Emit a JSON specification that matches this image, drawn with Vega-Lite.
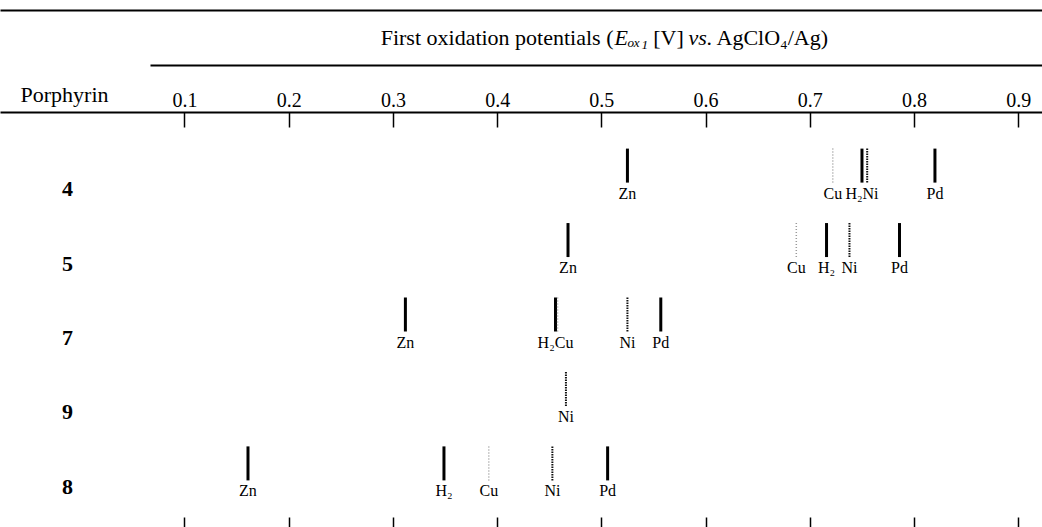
{
  "$schema": "https://vega.github.io/schema/vega-lite/v6.json",
  "width": 1042,
  "height": 405,
  "autosize": {"type": "none"},
  "padding": {"left": 0, "top": 112, "right": 0, "bottom": 10},
  "background": "white",
  "config": {
    "view": {"stroke": null},
    "axis": {"grid": false, "labelColor": "black", "titleColor": "black", "domainColor": "black", "tickColor": "black"}
  },
  "data": {
    "values": [
      {"porphyrin": "4", "metal": "Zn", "E": 0.525, "label": "Zn"},
      {"porphyrin": "4", "metal": "Cu", "E": 0.722, "label": "Cu"},
      {"porphyrin": "4", "metal": "H2", "E": 0.750, "label": "H₂Ni"},
      {"porphyrin": "4", "metal": "Ni", "E": 0.755, "label": ""},
      {"porphyrin": "4", "metal": "Pd", "E": 0.820, "label": "Pd"},
      {"porphyrin": "5", "metal": "Zn", "E": 0.468, "label": "Zn"},
      {"porphyrin": "5", "metal": "Cu", "E": 0.687, "label": "Cu"},
      {"porphyrin": "5", "metal": "H2", "E": 0.716, "label": "H₂"},
      {"porphyrin": "5", "metal": "Ni", "E": 0.738, "label": "Ni"},
      {"porphyrin": "5", "metal": "Pd", "E": 0.786, "label": "Pd"},
      {"porphyrin": "7", "metal": "Zn", "E": 0.312, "label": "Zn"},
      {"porphyrin": "7", "metal": "H2", "E": 0.456, "label": "H₂Cu"},
      {"porphyrin": "7", "metal": "Cu", "E": 0.458, "label": ""},
      {"porphyrin": "7", "metal": "Ni", "E": 0.525, "label": "Ni"},
      {"porphyrin": "7", "metal": "Pd", "E": 0.557, "label": "Pd"},
      {"porphyrin": "9", "metal": "Ni", "E": 0.466, "label": "Ni"},
      {"porphyrin": "8", "metal": "Zn", "E": 0.161, "label": "Zn"},
      {"porphyrin": "8", "metal": "H2", "E": 0.349, "label": "H₂"},
      {"porphyrin": "8", "metal": "Cu", "E": 0.392, "label": "Cu"},
      {"porphyrin": "8", "metal": "Ni", "E": 0.453, "label": "Ni"},
      {"porphyrin": "8", "metal": "Pd", "E": 0.506, "label": "Pd"}
    ]
  },
  "resolve": {"axis": {"x": "independent"}},
  "encoding": {
    "y": {
      "field": "porphyrin", "type": "ordinal",
      "scale": {"type": "point", "domain": ["4", "5", "7", "9", "8"], "padding": 0.72},
      "axis": {
        "orient": "left", "offset": -120, "domain": false, "ticks": false,
        "labelFont": "Liberation Serif", "labelFontSize": 22, "labelFontWeight": "bold",
        "labelAlign": "center", "labelBaseline": "middle", "labelPadding": 53, "labelOffset": 23,
        "title": "Porphyrin", "titleFont": "Liberation Serif", "titleFontSize": 22, "titleFontWeight": "normal",
        "titleAngle": 0, "titleX": -100, "titleY": -11, "titleAlign": "left", "titleBaseline": "alphabetic"
      }
    }
  },
  "layer": [
    {
      "transform": [{"filter": {"field": "metal", "oneOf": ["Zn", "H2", "Pd"]}}],
      "mark": {"type": "rule", "color": "black", "strokeWidth": 3, "yOffset": -17, "y2Offset": 17},
      "encoding": {
        "x": {
          "field": "E", "type": "quantitative",
          "scale": {"domain": [-0.0769, 0.9227], "nice": false, "zero": false},
          "axis": {
            "orient": "top", "values": [0.1, 0.2, 0.3, 0.4, 0.5, 0.6, 0.7, 0.8, 0.9], "format": ".1f",
            "domain": true, "domainWidth": 2,
            "ticks": true, "tickSize": -15, "tickWidth": 1.5,
            "labelFont": "Liberation Serif", "labelFontSize": 20, "labelPadding": 21, "labelBaseline": "alphabetic",
            "labelFlush": false, "labelOverlap": false,
            "title": "First oxidation potentials (", "titleFont": "Liberation Serif", "titleFontSize": 22, "titleFontWeight": "normal",
            "titleX": 613, "titleY": -68, "titleAlign": "right", "titleBaseline": "alphabetic", "titleAngle": 0
          }
        },
        "y2": {"field": "porphyrin"}
      }
    },
    {
      "transform": [{"filter": {"field": "metal", "equal": "Cu"}}],
      "mark": {"type": "rule", "color": "#9a9a9a", "strokeWidth": 1.5, "strokeDash": [1, 2], "yOffset": -17, "y2Offset": 17},
      "encoding": {
        "x": {
          "field": "E", "type": "quantitative",
          "axis": {
            "orient": "top", "offset": 47, "domain": true, "domainWidth": 2, "domainDash": [0, 150, 892, 0],
            "ticks": false, "labels": false,
            "title": "Eₒₓ₁", "titleFont": "Liberation Serif", "titleFontSize": 22, "titleFontWeight": "normal", "titleFontStyle": "italic",
            "titleX": 614, "titleY": -21, "titleAlign": "left", "titleBaseline": "alphabetic", "titleAngle": 0
          }
        },
        "y2": {"field": "porphyrin"}
      }
    },
    {
      "transform": [{"filter": {"field": "metal", "equal": "Ni"}}],
      "mark": {"type": "rule", "color": "#111111", "strokeWidth": 2, "strokeDash": [1.5, 1], "yOffset": -17, "y2Offset": 17},
      "encoding": {
        "x": {
          "field": "E", "type": "quantitative",
          "axis": {
            "orient": "top", "offset": 102, "domain": true, "domainWidth": 2,
            "ticks": false, "labels": false,
            "title": "[V]", "titleFont": "Liberation Serif", "titleFontSize": 22, "titleFontWeight": "normal",
            "titleX": 668, "titleY": 34, "titleAlign": "center", "titleBaseline": "alphabetic", "titleAngle": 0
          }
        },
        "y2": {"field": "porphyrin"}
      }
    },
    {
      "transform": [{"filter": {"field": "metal", "oneOf": ["Zn", "H2", "Pd"]}}],
      "mark": {"type": "text", "font": "Liberation Serif", "fontSize": 16, "color": "black", "align": "center", "baseline": "alphabetic", "dy": 33},
      "encoding": {
        "x": {
          "field": "E", "type": "quantitative",
          "axis": {
            "orient": "bottom", "domain": false, "labels": false,
            "ticks": true, "tickSize": 14, "tickWidth": 1.5,
            "values": [0.1, 0.2, 0.3, 0.4, 0.5, 0.6, 0.7, 0.8, 0.9],
            "title": "vs.", "titleFont": "Liberation Serif", "titleFontSize": 22, "titleFontWeight": "normal", "titleFontStyle": "italic",
            "titleX": 700, "titleY": -473, "titleAlign": "center", "titleBaseline": "alphabetic", "titleAngle": 0
          }
        },
        "text": {"field": "label"}
      }
    },
    {
      "transform": [{"filter": {"field": "metal", "oneOf": ["Cu", "Ni"]}}],
      "mark": {"type": "text", "font": "Liberation Serif", "fontSize": 16, "color": "black", "align": "center", "baseline": "alphabetic", "dy": 33},
      "encoding": {
        "x": {
          "field": "E", "type": "quantitative",
          "axis": {
            "orient": "top", "domain": false, "labels": false, "ticks": false,
            "title": "AgClO₄/Ag)", "titleFont": "Liberation Serif", "titleFontSize": 22, "titleFontWeight": "normal",
            "titleX": 716, "titleY": -68, "titleAlign": "left", "titleBaseline": "alphabetic", "titleAngle": 0
          }
        },
        "text": {"field": "label"}
      }
    }
  ]
}
